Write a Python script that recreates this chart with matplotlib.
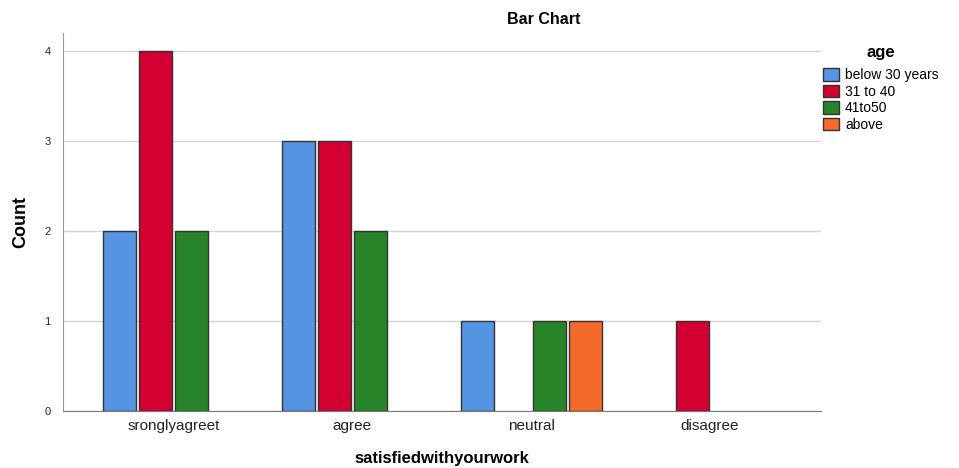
import numpy as np
import matplotlib
matplotlib.use("Agg")
import matplotlib.pyplot as plt
from matplotlib.patches import Patch

plt.rcParams['font.family'] = ['Liberation Sans', 'DejaVu Sans']

# data
categories = ['sronglyagreet', 'agree', 'neutral', 'disagree']
age_groups = ['below 30 years', '31 to 40', '41to50', 'above']
counts = {
    'below 30 years': [2, 3, 1, 0],
    '31 to 40':       [4, 3, 0, 1],
    '41to50':         [2, 2, 1, 0],
    'above':          [0, 0, 1, 0],
}
colors = ['#5593e3', '#d40032', '#288429', '#f46a2b']

fig = plt.figure(figsize=(9.59, 4.68), dpi=100)
ax = fig.add_axes([63 / 959, 1 - 411 / 468, (821 - 63) / 959, (411 - 33) / 468])

x = np.arange(len(categories))
step = 0.201
width = 0.184
offsets = (np.arange(len(age_groups)) - 1.5) * step

for i, grp in enumerate(age_groups):
    vals = np.array(counts[grp])
    xs = x + offsets[i]
    mask = vals > 0
    ax.bar(xs[mask], vals[mask], width=width, color=colors[i],
           edgecolor='#333333', linewidth=1.0, zorder=3)

ax.set_xlim(-0.617, 3.62)
ax.set_ylim(0, 4.2)
ax.set_yticks([0, 1, 2, 3, 4])
ax.set_xticks(x)
ax.set_xticklabels(categories, fontsize=11, color='#222222')
ax.tick_params(axis='y', length=0, pad=9, labelsize=8, labelcolor='#222222')
ax.tick_params(axis='x', length=0, pad=6)
ax.yaxis.grid(True, color='#d4d4d4', linewidth=1.0, zorder=0)
ax.set_axisbelow(True)

for s in ['top', 'right']:
    ax.spines[s].set_visible(False)
ax.spines['left'].set_color('#999999')
ax.spines['bottom'].set_color('#777777')

ax.set_xlabel('satisfiedwithyourwork', fontsize=12, fontweight='bold', labelpad=13)
ax.set_ylabel('Count', fontsize=13, fontweight='bold', labelpad=11,
              fontstretch='condensed')

fig.text(544 / 959, 1 - 19 / 468, 'Bar Chart', ha='center', va='center',
         fontsize=11.5, fontweight='bold')

handles = [Patch(facecolor=c, edgecolor='#333333', linewidth=1.0) for c in colors]
leg = fig.legend(handles, age_groups, loc='upper left',
                 bbox_to_anchor=(813 / 959, 1 - 35 / 468),
                 title='age', frameon=False, fontsize=10,
                 handlelength=1.2, handleheight=1.0, handletextpad=0.4,
                 labelspacing=0.18, borderpad=0.2)
leg.get_title().set_fontweight('bold')
leg.get_title().set_fontsize(12)
leg._legend_box.align = 'center'
leg._legend_box.sep = 6

fig.savefig('out.png', dpi=100)
